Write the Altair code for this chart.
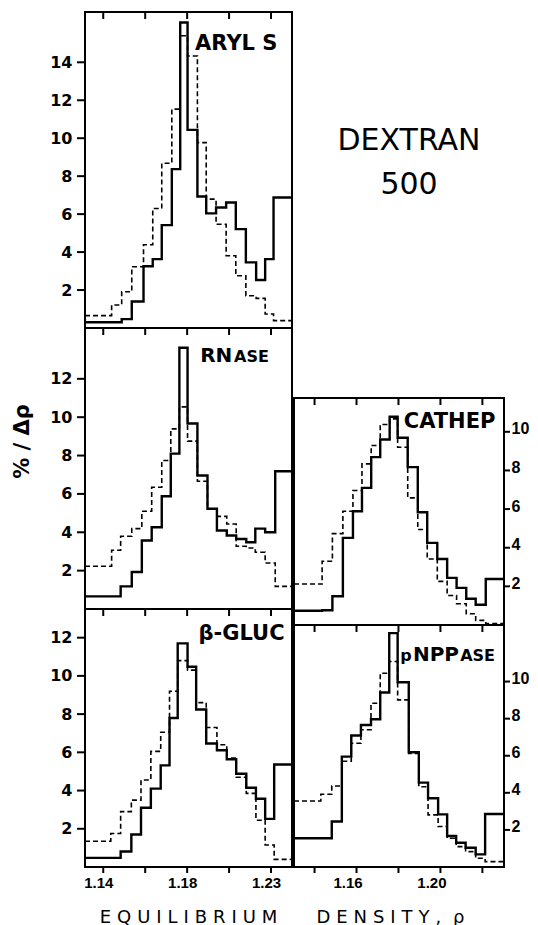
import json
import altair as alt
import pandas as pd

# ---------------- values ----------------
DENS_TICKS = [1.14, 1.16, 1.18, 1.20, 1.22]
LEFT_TICK_LABELS = ["1.14", "", "1.18", "", "1.23"]
RIGHT_TICK_LABELS = ["", "1.16", "", "1.20", ""]

ARYL_EDGES = [1.1313, 1.1440, 1.1488, 1.1536, 1.1592, 1.1636, 1.1679, 1.1727, 1.1767, 1.1802,
              1.1849, 1.1891, 1.1938, 1.1986, 1.2032, 1.2080, 1.2129, 1.2172, 1.2212, 1.2300]
ARYL_SOLID = [0.30, 0.30, 0.47, 1.40, 3.25, 3.63, 5.42, 8.37, 16.1, 10.44,
              6.93, 6.04, 6.35, 6.61, 5.21, 3.46, 2.53, 3.63, 6.88]
ARYL_DASHED = [0.65, 1.21, 1.91, 3.23, 4.39, 6.30, 8.68, 11.53, 15.4, 14.33,
               9.77, 6.79, 5.47, 3.81, 2.75, 1.70, 1.56, 0.74, 0.39]

RNASE_EDGES = [1.1313, 1.1440, 1.1483, 1.1536, 1.1584, 1.1631, 1.1679, 1.1722, 1.1763, 1.1802,
               1.1849, 1.1897, 1.1942, 1.1989, 1.2034, 1.2082, 1.2125, 1.2172, 1.2220, 1.2300]
RNASE_SOLID = [0.66, 0.66, 1.18, 1.93, 3.57, 4.26, 5.88, 8.10, 13.62, 9.67,
               6.96, 5.23, 4.09, 3.83, 3.65, 3.48, 4.19, 4.00, 7.18]
RNASE_DASHED = [2.23, 3.06, 3.79, 4.19, 5.10, 6.35, 7.74, 9.39, 10.54, 8.75,
                6.66, 5.23, 4.83, 4.43, 3.27, 3.18, 2.96, 2.40, 1.18]

GLUC_EDGES = [1.1313, 1.1436, 1.1483, 1.1534, 1.1580, 1.1627, 1.1674, 1.1716, 1.1755, 1.1802,
              1.1843, 1.1891, 1.1942, 1.1989, 1.2034, 1.2082, 1.2128, 1.2172, 1.2215, 1.2300]
GLUC_SOLID = [0.48, 0.48, 0.81, 1.70, 3.10, 4.10, 5.32, 7.80, 11.70, 10.48,
              8.24, 6.46, 6.11, 5.64, 4.88, 4.15, 3.57, 2.52, 5.36]
GLUC_DASHED = [1.35, 1.75, 2.90, 3.50, 4.55, 6.05, 7.05, 9.20, 10.80, 10.30,
               8.60, 7.30, 6.40, 5.70, 4.70, 3.85, 2.45, 1.15, 0.40]

CATHEP_EDGES = [1.1302, 1.1436, 1.1485, 1.1535, 1.1583, 1.1626, 1.1670, 1.1713, 1.1758, 1.1796,
                1.1844, 1.1892, 1.1937, 1.1985, 1.2032, 1.2077, 1.2123, 1.2168, 1.2216, 1.2303]
CATHEP_SOLID = [0.74, 0.76, 1.49, 4.51, 5.89, 7.10, 8.69, 9.60, 10.78, 9.69,
                8.17, 5.84, 4.25, 3.42, 2.44, 1.92, 1.36, 1.05, 2.38]
CATHEP_DASHED = [2.12, 3.30, 4.73, 5.89, 6.96, 8.34, 9.29, 10.38, 10.67, 9.20,
                 6.58, 4.94, 3.42, 2.26, 1.53, 1.10, 0.58, 0.24, 0.08]

PNPP_EDGES = [1.1302, 1.1430, 1.1482, 1.1530, 1.1575, 1.1621, 1.1669, 1.1713, 1.1756, 1.1796,
              1.1849, 1.1897, 1.1941, 1.1989, 1.2032, 1.2075, 1.2120, 1.2168, 1.2213, 1.2303]
PNPP_SOLID = [1.55, 1.55, 2.45, 5.95, 7.09, 7.66, 7.97, 9.41, 12.61, 9.96,
              6.19, 4.55, 3.71, 2.84, 1.67, 1.31, 1.04, 0.68, 2.86]
PNPP_DASHED = [3.56, 3.92, 4.37, 5.70, 6.67, 7.40, 8.83, 10.45, 11.08, 9.01,
               6.13, 4.33, 2.81, 2.18, 1.55, 1.10, 0.83, 0.47, 0.29]

ARYL_YTICKS = [2, 4, 6, 8, 10, 12, 14]
RNASE_YTICKS = [2, 4, 6, 8, 10, 12]
GLUC_YTICKS = [2, 4, 6, 8, 10, 12]
CATHEP_YTICKS = [2, 4, 6, 8, 10]
PNPP_YTICKS = [2, 4, 6, 8, 10]

Y_TITLE = "% / Δρ"
X_TITLE_LEFT = "E\u2004Q\u2004U\u2004I\u2004L\u2004I\u2004B\u2004R\u2004I\u2004U\u2004M"
X_TITLE_RIGHT = "D\u2004E\u2004N\u2004S\u2004I\u2004T\u2004Y\u2004,\u2004\u2004ρ"
TITLE_LINES = ["DEXTRAN", "500"]

# ---------------- layout / style ----------------
FONT = "DejaVu Sans"
NUM_FONT = "Liberation Sans"
PLOT_W, PLOT_H = 419, 855

LEFT_XDOM, LEFT_XR = [1.1313, 1.2300], [0, 207]
RIGHT_XDOM, RIGHT_XR = [1.1302, 1.2303], [209, 419]

# panel label pieces: text, left x (density), baseline y (value), font size
LBL_ARYL = [("ARYL S", 1.1838, 14.63, 21)]
LBL_RNASE = [("RN", 1.1862, 12.89, 20), ("ASE", 1.2024, 12.89, 16)]
LBL_GLUC = [("β-GLUC", 1.1854, 11.88, 21)]
LBL_CATHEP = [("CATHEP", 1.1825, 10.18, 21)]
LBL_PNPP = [("p", 1.1809, 11.13, 16), ("NPP", 1.1869, 11.13, 20), ("ASE", 1.2094, 11.13, 16)]

TICK_IN = 7
TICK_LEFT = 8
TICK_RIGHT = 6
TICK_BOTTOM = 6
RULE = dict(color="black", strokeWidth=2)
ONE = pd.DataFrame({"k": [0]})


def steps(edges, vals):
    return pd.DataFrame({"x": list(edges), "v": list(vals) + [vals[-1]]})


def tick_label_expr(labels):
    codes = [int(round(t * 100)) for t in DENS_TICKS]
    return "(%s[indexof(%s, round(datum.value * 100))]) || ''" % (json.dumps(labels), json.dumps(codes))


def bottom_axis(labels, title, title_x, label_offset):
    return alt.Axis(orient="bottom", values=DENS_TICKS, labelExpr=tick_label_expr(labels),
                    domain=False, grid=False, ticks=False, tickSize=0, minExtent=0,
                    labelPadding=TICK_BOTTOM + 2, labelFont=NUM_FONT, labelFontWeight="bold",
                    labelFontSize=15, labelColor="black", labelOffset=label_offset, labelFlush=False,
                    title=title, titleFont=FONT, titleFontSize=18, titleFontWeight="normal",
                    titleColor="black", titleX=title_x, titleY=50, titleBaseline="middle",
                    titleAlign="center")


def left_axis(values, title_y=None):
    kw = dict(orient="left", values=values, format="d", domain=False, grid=False,
              ticks=False, tickSize=0, minExtent=0, labelPadding=TICK_LEFT + 5,
              labelFont=FONT, labelFontWeight="bold", labelFontSize=16, labelColor="black",
              labelFlush=False)
    if title_y is None:
        kw["title"] = None
    else:
        kw.update(title=Y_TITLE, titleFont=FONT, titleFontWeight="bold", titleFontSize=21,
                  titleColor="black", titleX=-63, titleY=title_y, titleBaseline="middle",
                  titleAngle=270)
    return alt.Axis(**kw)


def right_axis(values):
    return alt.Axis(orient="right", values=values, format="d", domain=False, grid=False,
                    ticks=False, tickSize=0, minExtent=0, labelPadding=TICK_RIGHT + 1,
                    labelOffset=-3, labelFont=NUM_FONT, labelFontWeight="bold", labelFontSize=16,
                    labelColor="black", labelFlush=False, title=None)


def panel(edges, solid, dashed, labels, xdom, xr, ydom, yr, yvals, side, yax, bottom_ax=None):
    xsc = alt.Scale(domain=xdom, range=xr, nice=False, zero=False)
    ysc = alt.Scale(domain=ydom, range=yr, nice=False, zero=False)

    solid_layer = alt.Chart(steps(edges, solid)).mark_line(
        interpolate="step-after", color="black", strokeWidth=2.4
    ).encode(x=alt.X("x:Q", scale=xsc, axis=bottom_ax), y=alt.Y("v:Q", scale=ysc, axis=yax))
    dash_layer = alt.Chart(steps(edges, dashed)).mark_line(
        interpolate="step-after", color="black", strokeWidth=1.6, strokeDash=[5, 3]
    ).encode(x=alt.X("x:Q", scale=xsc, axis=None), y=alt.Y("v:Q", scale=ysc, axis=None))

    lab_df = pd.DataFrame({"t": [l[0] for l in labels], "x": [l[1] for l in labels],
                           "v": [l[2] for l in labels], "s": [l[3] for l in labels]})
    lab_layer = alt.Chart(lab_df).mark_text(
        align="left", baseline="alphabetic", font=FONT, fontWeight="bold", color="black"
    ).encode(x=alt.X("x:Q", scale=xsc, axis=None), y=alt.Y("v:Q", scale=ysc, axis=None),
             text="t:N", size=alt.Size("s:Q", scale=None))

    frame = alt.Chart(ONE).mark_rect(filled=False, stroke="black", strokeWidth=2).encode(
        x=alt.X(datum=xdom[0], scale=xsc, axis=None), x2=alt.datum(xdom[1]),
        y=alt.Y(datum=ydom[0], scale=ysc, axis=None), y2=alt.datum(ydom[1]))

    xt = pd.DataFrame({"tx": DENS_TICKS})
    yt = pd.DataFrame({"ty": yvals})
    top_ticks = alt.Chart(xt).mark_rule(y2Offset=TICK_IN, **RULE).encode(
        x=alt.X("tx:Q", scale=xsc, axis=None),
        y=alt.Y(datum=ydom[1], scale=ysc, axis=None), y2=alt.datum(ydom[1]))
    if side == "left":
        y_ticks = alt.Chart(yt).mark_rule(x2Offset=-TICK_LEFT, **RULE).encode(
            y=alt.Y("ty:Q", scale=ysc, axis=None),
            x=alt.X(datum=xdom[0], scale=xsc, axis=None), x2=alt.datum(xdom[0]))
    else:
        y_ticks = alt.Chart(yt).mark_rule(x2Offset=TICK_RIGHT, **RULE).encode(
            y=alt.Y("ty:Q", scale=ysc, axis=None),
            x=alt.X(datum=xdom[1], scale=xsc, axis=None), x2=alt.datum(xdom[1]))
    layers = [frame, solid_layer, dash_layer, lab_layer, top_ticks, y_ticks]
    if bottom_ax is not None:
        layers.append(alt.Chart(xt).mark_rule(y2Offset=TICK_BOTTOM, **RULE).encode(
            x=alt.X("tx:Q", scale=xsc, axis=None),
            y=alt.Y(datum=ydom[0], scale=ysc, axis=None), y2=alt.datum(ydom[0])))
    return alt.layer(*layers).resolve_axis(x="independent", y="independent")


aryl = panel(ARYL_EDGES, ARYL_SOLID, ARYL_DASHED, LBL_ARYL, LEFT_XDOM, LEFT_XR,
             [0, 16.65], [316, 0], ARYL_YTICKS, "left", left_axis(ARYL_YTICKS))
rnase = panel(RNASE_EDGES, RNASE_SOLID, RNASE_DASHED, LBL_RNASE, LEFT_XDOM, LEFT_XR,
              [0, 14.65], [597, 316], RNASE_YTICKS, "left", left_axis(RNASE_YTICKS, 429))
gluc = panel(GLUC_EDGES, GLUC_SOLID, GLUC_DASHED, LBL_GLUC, LEFT_XDOM, LEFT_XR,
             [0, 13.5], [855, 597], GLUC_YTICKS, "left", left_axis(GLUC_YTICKS),
             bottom_axis(LEFT_TICK_LABELS, X_TITLE_LEFT, 103, -5))
cathep = panel(CATHEP_EDGES, CATHEP_SOLID, CATHEP_DASHED, LBL_CATHEP, RIGHT_XDOM, RIGHT_XR,
               [0, 11.75], [613, 386], CATHEP_YTICKS, "right", right_axis(CATHEP_YTICKS))
pnpp = panel(PNPP_EDGES, PNPP_SOLID, PNPP_DASHED, LBL_PNPP, RIGHT_XDOM, RIGHT_XR,
             [0, 13.05], [855, 613], PNPP_YTICKS, "right", right_axis(PNPP_YTICKS),
             bottom_axis(RIGHT_TICK_LABELS, X_TITLE_RIGHT, 305, -9))

dex_df = pd.DataFrame({"t": TITLE_LINES, "line": list(range(len(TITLE_LINES)))})
dex = alt.Chart(dex_df).mark_text(
    font=FONT, fontSize=30, color="black", baseline="middle", align="center"
).encode(
    x=alt.value(324),
    y=alt.Y("line:O", scale=alt.Scale(range=[129, 173], padding=0), axis=None),
    text="t:N",
)

chart = alt.layer(aryl, rnase, gluc, cathep, pnpp, dex).resolve_scale(
    x="independent", y="independent"
).resolve_axis(
    x="independent", y="independent"
).properties(
    width=PLOT_W, height=PLOT_H,
    padding={"left": 3, "top": 3, "right": 0, "bottom": 0},
).configure_view(strokeOpacity=0)

chart.save("out.html", embed_options={"renderer": "svg", "actions": False})
